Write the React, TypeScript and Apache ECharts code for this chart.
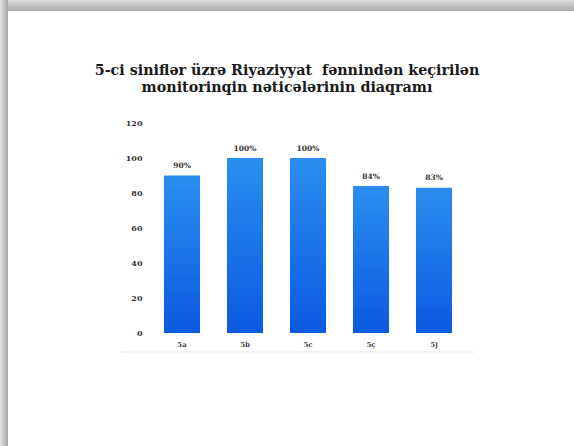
import React, { useEffect, useRef } from "react";
import * as echarts from "echarts";

const categories = ["5a", "5b", "5c", "5ç", "5j"];
const values = [90, 100, 100, 84, 83];
const valueLabels = ["90%", "100%", "100%", "84%", "83%"];
const titleText = "5-ci siniflər üzrə Riyaziyyat  fənnindən keçirilən\nmonitorinqin nəticələrinin diaqramı";

export default function App() {
  const ref = useRef<HTMLDivElement>(null);
  useEffect(() => {
    document.body.style.margin = "0";
    const chart = echarts.init(ref.current!, null, { renderer: "svg" });
    const serif = "'DejaVu Serif', 'Liberation Serif', serif";
    chart.setOption({
      animation: false,
      backgroundColor: "#ffffff",
      title: {
        text: titleText,
        left: "center",
        top: 56,
        textStyle: {
          fontFamily: serif,
          fontWeight: "bold",
          fontSize: 14.3,
          color: "#1a1a1a",
          lineHeight: 17,
        },
      },
      graphic: [
        {
          type: "rect",
          shape: { x: 0, y: 0, width: 574, height: 11 },
          style: {
            fill: new echarts.graphic.LinearGradient(0, 0, 0, 1, [
              { offset: 0, color: "#dcdcdc" },
              { offset: 1, color: "#a8a8a8" },
            ]),
          },
          silent: true,
        },
        {
          type: "rect",
          shape: { x: 0, y: 0, width: 8, height: 446 },
          style: {
            fill: new echarts.graphic.LinearGradient(0, 0, 1, 0, [
              { offset: 0, color: "#e2e2e2" },
              { offset: 1, color: "#a4a4a4" },
            ]),
          },
          silent: true,
        },
        {
          type: "line",
          shape: { x1: 122, y1: 352, x2: 474, y2: 352 },
          style: { stroke: "#e4e4e4", lineWidth: 1 },
          silent: true,
        },
      ],
      grid: { left: 150.5, right: 108.5, top: 123, bottom: 113 },
      xAxis: {
        type: "category",
        data: categories,
        axisLine: { show: false },
        axisTick: { show: false },
        axisLabel: {
          fontFamily: serif,
          fontWeight: "bold",
          fontSize: 7,
          color: "#444",
          margin: 8,
        },
      },
      yAxis: {
        type: "value",
        min: 0,
        max: 120,
        interval: 20,
        splitLine: { show: false },
        axisLine: { show: false },
        axisTick: { show: false },
        axisLabel: {
          fontFamily: serif,
          fontWeight: "bold",
          fontSize: 8,
          color: "#333",
          margin: 8,
        },
      },
      series: [
        {
          type: "bar",
          data: values,
          barWidth: 36,
          itemStyle: {
            color: new echarts.graphic.LinearGradient(0, 0, 0, 1, [
              { offset: 0, color: "#2a8ef0" },
              { offset: 1, color: "#0b5ae2" },
            ]),
          },
          label: {
            show: true,
            position: "top",
            distance: 6,
            formatter: (p: any) => valueLabels[p.dataIndex],
            fontFamily: serif,
            fontWeight: "bold",
            fontSize: 7.5,
            color: "#333",
          },
        },
      ],
    });
    return () => chart.dispose();
  }, []);
  return <div ref={ref} style={{ width: 574, height: 446 }} />;
}
